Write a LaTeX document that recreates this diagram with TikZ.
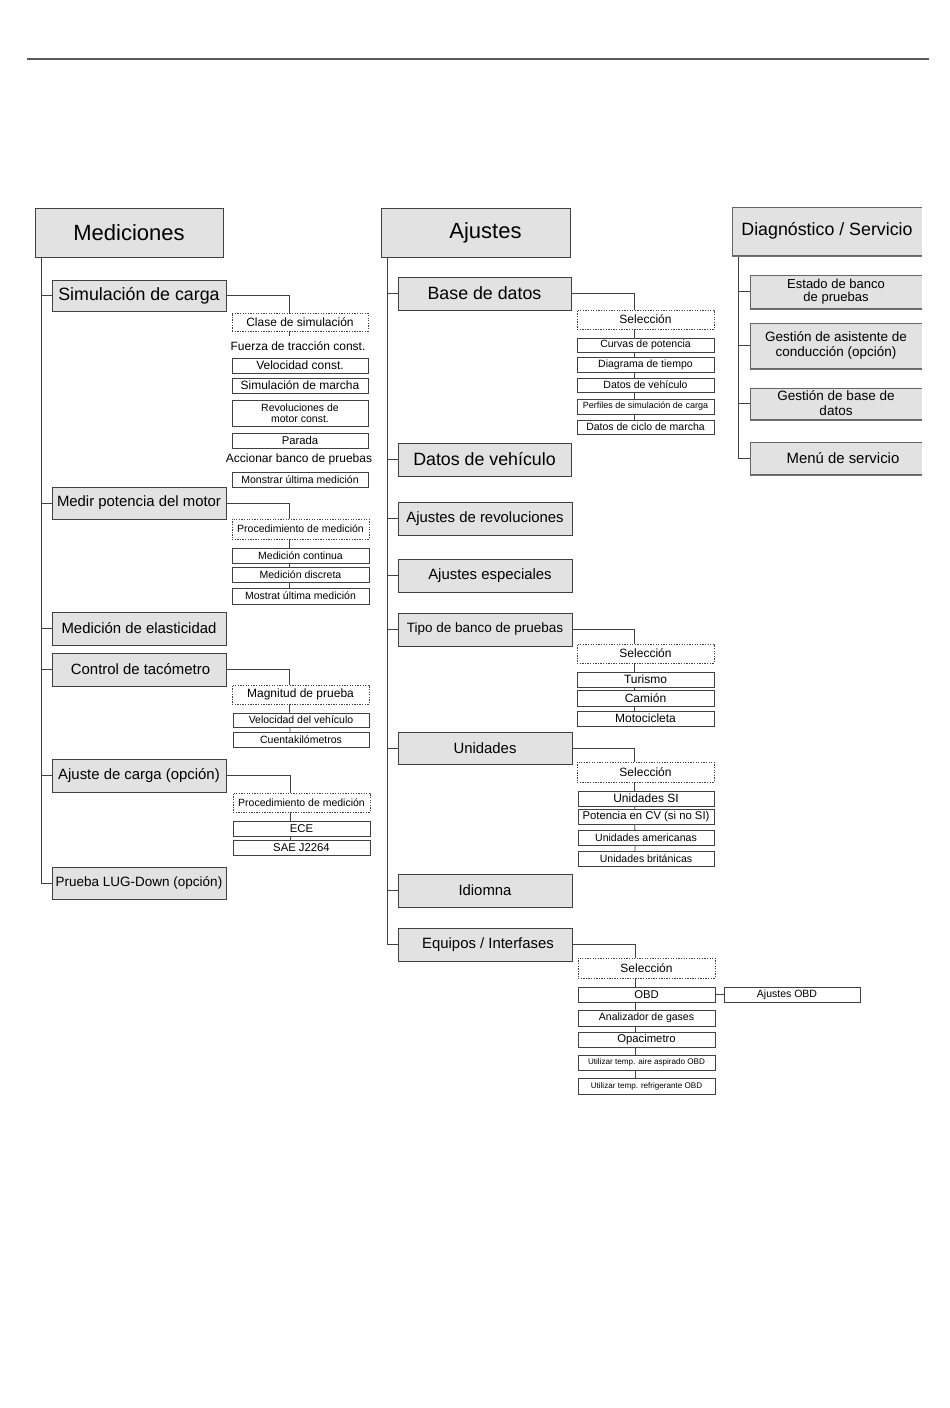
\documentclass[tikz,border=0pt]{standalone}
\usepackage{fontspec}
\setmainfont{Liberation Sans}
\usetikzlibrary{shadows,backgrounds}
\definecolor{boxgray}{RGB}{226,226,226}
\definecolor{linegray}{RGB}{65,65,65}
\newcommand\mybox[7]{\node[#6, minimum width={#4-#2}, minimum height={#5-#3}] (#1) at (#2,#3) {#7};}
\tikzset{
  base/.style={inner sep=0pt, outer sep=0pt, align=center, anchor=north west},
  gbox/.style={base, fill=boxgray, draw=linegray, line width=0.9pt,
    drop shadow={shadow xshift=0.9pt, shadow yshift=-1.1pt, fill=black!55, opacity=1}},
  wbox/.style={base, fill=white, draw=linegray, line width=0.7pt,
    drop shadow={shadow xshift=0.6pt, shadow yshift=-0.7pt, fill=black!50, opacity=1}},
  dbox/.style={base, fill=white, draw=linegray, line width=0.8pt, dash pattern=on 1.3pt off 1.3pt},
  rbox/.style={base, fill=boxgray},
  rborder/.style={draw=black!60, line width=0.9pt},
  plaintext/.style={inner sep=0pt, anchor=center},
  conn/.style={draw=linegray, line width=0.8pt},
  f22/.style={font=\fontsize{22}{26}\selectfont},
  f18/.style={font=\fontsize{17.8}{21}\selectfont},
  f15/.style={font=\fontsize{14.9}{17}\selectfont},
  f135/.style={font=\fontsize{13.5}{15}\selectfont},
  f13/.style={font=\fontsize{13}{13.5}\selectfont},
  f12/.style={font=\fontsize{12}{14}\selectfont},
  f11/.style={font=\fontsize{11.3}{13}\selectfont},
  f105/.style={font=\fontsize{10.5}{11.5}\selectfont},
  f9/.style={font=\fontsize{9}{10}\selectfont},
  f8/.style={font=\fontsize{8.1}{9}\selectfont},
}
\begin{document}
\begin{tikzpicture}[x=1pt, y=-1pt]
\useasboundingbox (0,0) rectangle (950,1408);
\begin{scope}[on background layer]
  \fill[white] (0,0) rectangle (950,1408);
\end{scope}
\draw[line width=1.3pt, black!65] (27,59) -- (929,59);

% ---------------- Mediciones ----------------
\mybox{med}{35}{208}{223}{257}{gbox,f22}{Mediciones}
\mybox{sim}{52}{280}{226}{311}{gbox,f18}{Simulación de carga}
\mybox{clase}{232}{313}{368}{331}{dbox,f12}{Clase de simulación}
\node[plaintext, f12] (fuerza) at (298,346) {Fuerza de tracción const.};
\mybox{vel}{232}{358}{368}{373}{wbox,f12}{Velocidad const.}
\mybox{simm}{232}{378}{368}{393}{wbox,f12}{Simulación de marcha}
\mybox{rev}{232}{400}{368}{426}{wbox,f105}{Revoluciones de\\motor const.}
\mybox{parada}{232}{433}{368}{448}{wbox,f11}{Parada}
\node[plaintext, f12] (accionar) at (299,459) {Accionar banco de pruebas};
\mybox{monstrar}{232}{472}{368}{487}{wbox,f105}{Monstrar última medición}

\mybox{medir}{52}{487}{226}{519}{gbox,f15}{Medir potencia del motor}
\mybox{proca}{232}{519}{369}{539}{dbox,f105}{Procedimiento de medición}
\mybox{mcont}{232}{548}{369}{563}{wbox,f105}{Medición continua}
\mybox{mdisc}{232}{567}{369}{582}{wbox,f105}{Medición discreta}
\mybox{mostrat}{232}{588}{369}{604}{wbox,f105}{Mostrat última medición}

\mybox{elast}{52}{612}{226}{645}{gbox,f15}{Medición de elasticidad}

\mybox{taco}{52}{653}{226}{686}{gbox,f15}{\hspace*{3pt}Control de tacómetro}
\mybox{magn}{232}{685}{369}{704}{dbox,f12}{Magnitud de prueba}
\mybox{velveh}{233}{713}{369}{727}{wbox,f105}{Velocidad del vehículo}
\mybox{cuenta}{233}{732}{369}{747}{wbox,f105}{Cuentakilómetros}

\mybox{ajcarga}{52}{759}{226}{792}{gbox,f15}{Ajuste de carga (opción)}
\mybox{procb}{233}{793}{370}{812}{dbox,f105}{Procedimiento de medición}
\mybox{ece}{233}{821}{370}{836}{wbox,f11}{ECE}
\mybox{sae}{233}{840}{370}{855}{wbox,f11}{SAE J2264}

\mybox{lug}{52}{867}{226}{899}{gbox,f135}{Prueba LUG-Down (opción)}

% ---------------- Ajustes ----------------
\mybox{ajustes}{381}{208}{570}{257}{gbox,f22}{\hspace*{20pt}Ajustes}
\mybox{based}{398}{277}{571}{310}{gbox,f18}{Base de datos}
\mybox{sela}{577}{310}{714}{329}{dbox,f12}{Selección}
\mybox{curvas}{577}{338}{714}{352}{wbox,f105}{Curvas de potencia}
\mybox{diagt}{577}{357}{714}{372}{wbox,f105}{Diagrama de tiempo}
\mybox{datveh}{577}{378}{714}{392}{wbox,f105}{Datos de vehículo}
\mybox{perf}{577}{399}{714}{414}{wbox,f9}{Perfiles de simulación de carga}
\mybox{ciclo}{577}{420}{714}{434}{wbox,f105}{Datos de ciclo de marcha}

\mybox{datos}{398}{443}{571}{476}{gbox,f18}{Datos de vehículo}
\mybox{revol}{398}{502}{572}{535}{gbox,f15}{Ajustes de revoluciones}
\mybox{espec}{398}{559}{572}{592}{gbox,f15}{\hspace*{10pt}Ajustes especiales}

\mybox{tipo}{398}{613}{572}{646}{gbox,f135}{Tipo de banco de pruebas}
\mybox{selb}{577}{644}{714}{663}{dbox,f12}{Selección}
\mybox{tur}{577}{672}{714}{687}{wbox,f12}{Turismo}
\mybox{cam}{577}{690}{714}{706}{wbox,f12}{Camión}
\mybox{moto}{577}{711}{714}{726}{wbox,f12}{Motocicleta}

\mybox{unid}{398}{732}{572}{764}{gbox,f15}{Unidades}
\mybox{selc}{577}{762}{714}{782}{dbox,f12}{Selección}
\mybox{usi}{578}{791}{714}{806}{wbox,f12}{Unidades SI}
\mybox{ucv}{578}{809}{714}{824}{wbox,f11}{Potencia en CV (si no SI)}
\mybox{uam}{578}{830}{714}{845}{wbox,f105}{Unidades americanas}
\mybox{ubr}{578}{851}{714}{866}{wbox,f105}{Unidades británicas}

\mybox{idiom}{398}{874}{572}{907}{gbox,f15}{Idiomna}

\mybox{equip}{398}{928}{572}{961}{gbox,f15}{\hspace*{6pt}Equipos / Interfases}
\mybox{seld}{578}{958}{715}{978}{dbox,f12}{Selección}
\mybox{obd}{578}{987}{715}{1002}{wbox,f11}{OBD}
\mybox{ajobd}{724}{987}{860}{1002}{wbox,f105}{Ajustes OBD\hspace*{10pt}}
\mybox{anal}{578}{1010}{715}{1026}{wbox,f105}{Analizador de gases}
\mybox{opac}{578}{1032}{715}{1047}{wbox,f11}{Opacimetro}
\mybox{utila}{578}{1055}{715}{1070}{wbox,f8}{Utilizar temp. aire aspirado OBD}
\mybox{utilb}{578}{1078}{715}{1094}{wbox,f8}{Utilizar temp. refrigerante OBD}

% ---------------- Diagnóstico ----------------
\mybox{diag}{732}{207}{922}{255}{rbox,f18}{Diagnóstico / Servicio}
\mybox{estado}{750}{275}{922}{308}{rbox,f13}{Estado de banco\\de pruebas}
\mybox{gasist}{750}{323}{922}{368}{rbox,f135}{Gestión de asistente de\\conducción (opción)}
\mybox{gbase}{750}{388}{922}{419}{rbox,f135}{Gestión de base de\\datos}
\mybox{menu}{750}{442}{922}{474}{rbox,f15}{\hspace*{14pt}Menú de servicio}
\foreach \n in {diag,estado,gasist,gbase,menu}{
  \draw[rborder] (\n.north east) -- (\n.north west) -- (\n.south west) -- (\n.south east);
  \draw[draw=black!55, line width=0.8pt] ([yshift=-1pt]\n.south west) -- ([yshift=-1pt]\n.south east);
}

% ---------------- connectors ----------------
\begin{scope}[on background layer]
  \foreach \c in {sim,medir,elast,taco,ajcarga,lug}
    \draw[conn] ([xshift=6pt]med.south west) |- (\c.west);
  \foreach \c in {based,datos,revol,espec,tipo,unid,idiom,equip}
    \draw[conn] ([xshift=6pt]ajustes.south west) |- (\c.west);
  \foreach \c in {estado,gasist,gbase,menu}
    \draw[conn] ([xshift=6pt]diag.south west) |- (\c.west);

  \draw[conn] (sim.east) -| ([xshift=-11pt]clase.north);
  \draw[conn] ([xshift=-11pt]clase.south) -- ++(0,5);

  \draw[conn] (medir.east) -| ([xshift=-11pt]proca.north);
  \draw[conn] ([xshift=-11pt]proca.south) -- ([xshift=-11pt]mostrat.north);

  \draw[conn] (taco.east) -| ([xshift=-11pt]magn.north);
  \draw[conn] ([xshift=-11pt]magn.south) -- ([xshift=-11pt]cuenta.north);

  \draw[conn] (ajcarga.east) -| ([xshift=-11pt]procb.north);
  \draw[conn] ([xshift=-11pt]procb.south) -- ([xshift=-11pt]sae.north);

  \draw[conn] (based.east) -| ([xshift=-11pt]sela.north);
  \draw[conn] ([xshift=-11pt]sela.south) -- ([xshift=-11pt]ciclo.north);

  \draw[conn] (tipo.east) -| ([xshift=-11pt]selb.north);
  \draw[conn] ([xshift=-11pt]selb.south) -- ([xshift=-11pt]moto.north);

  \draw[conn] (unid.east) -| ([xshift=-11pt]selc.north);
  \draw[conn] ([xshift=-11pt]selc.south) -- ([xshift=-11pt]ubr.north);

  \draw[conn] (equip.east) -| ([xshift=-11pt]seld.north);
  \draw[conn] ([xshift=-11pt]seld.south) -- ([xshift=-11pt]utilb.north);
  \draw[conn] (obd.east) -- (ajobd.west);
\end{scope}
\end{tikzpicture}
\end{document}
